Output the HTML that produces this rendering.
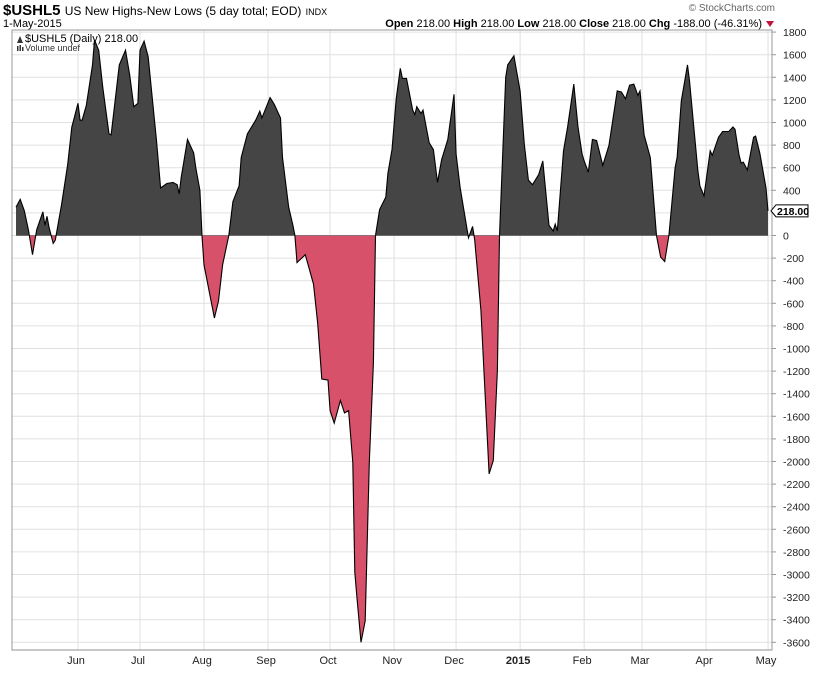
<!DOCTYPE html>
<html><head><meta charset="utf-8"><style>
body{margin:0;background:#fff;font-family:"Liberation Sans",sans-serif;}
svg text{font-family:"Liberation Sans",sans-serif;}
</style></head><body>
<svg id="chart" width="820" height="668" xmlns="http://www.w3.org/2000/svg">
<text x="3" y="15" font-size="15" font-weight="bold">$USHL5 <tspan font-weight="normal" font-size="12">US New Highs-New Lows (5 day total; EOD)</tspan> <tspan font-weight="normal" font-size="9">INDX</tspan></text>
<text x="3" y="27" font-size="11">1-May-2015</text>
<text x="775" y="11" font-size="10" fill="#666" text-anchor="end">© StockCharts.com</text>
<text x="762" y="27" font-size="11" text-anchor="end"><tspan font-weight="bold">Open</tspan> 218.00 <tspan font-weight="bold">High</tspan> 218.00 <tspan font-weight="bold">Low</tspan> 218.00 <tspan font-weight="bold">Close</tspan> 218.00 <tspan font-weight="bold">Chg</tspan> -188.00 (-46.31%)</text>
<polygon points="766,21 774,21 770,27" fill="#c0143c"/>
<g id="grid"></g>
<g id="marks"></g>
<rect x="12" y="30" width="760" height="620" fill="none" stroke="#999" stroke-width="1"/>
<line x1="12" y1="650" x2="772" y2="650" stroke="#888" stroke-dasharray="1,1"/>
<polygon points="17,43 20,36 23,43" fill="#333"/>
<text x="25" y="42" font-size="11">$USHL5 (Daily) 218.00</text>
<rect x="17" y="46" width="1.5" height="5" fill="#333"/><rect x="19.5" y="45" width="1.5" height="6" fill="#333"/><rect x="22" y="47" width="1.5" height="4" fill="#333"/>
<text x="25" y="51" font-size="9" fill="#333">Volume undef</text>
<g id="axis"></g>
</svg>
<script>
const days=[-30,-28,-26,-24,-22,-20,-17,-16,-15,-14,-12,-11,-8,-5,-3,-2,0,1,2,4,7,8,10,12,15,16,17,20,23,25,27,29,30,32,34,38,40,43,46,48,49,50,51,53,56,57,59,60,61,66,68,70,73,75,78,79,82,86,88,89,93,95,98,99,102,104,105,106,110,114,116,118,121,122,124,127,129,131,133,134,135,137,139,141,143,144,146,149,150,152,154,156,157,159,162,163,164,166,167,170,172,174,176,179,182,183,185,189,191,192,195,199,201,203,204,207,208,211,214,216,218,220,223,225,228,230,231,232,235,237,240,242,244,245,247,249,251,254,257,259,261,263,265,267,269,271,272,274,277,280,282,284,286,289,290,292,295,296,300,301,303,306,307,310,312,315,317,318,320,321,322,324,327,328,330,333,334];
const values=[250,320,220,50,-170,50,210,90,170,70,-70,-40,270,630,960,1030,1170,1020,1020,1150,1510,1730,1640,1310,900,890,1040,1510,1640,1420,1140,1170,1640,1720,1580,840,420,460,470,450,370,520,630,850,730,600,400,0,-260,-730,-580,-260,0,300,440,690,900,1020,1100,1040,1220,1160,1040,690,250,90,0,-240,-170,-430,-780,-1270,-1280,-1550,-1660,-1460,-1570,-1550,-2010,-2980,-3200,-3600,-3410,-2010,-1130,0,230,340,550,760,1210,1480,1390,1390,1110,1070,1140,1080,1110,820,760,470,670,850,1250,720,420,-20,80,-40,-660,-2110,-1990,-1190,0,1400,1510,1590,1280,810,490,450,540,660,90,40,100,40,750,960,1340,960,720,660,560,850,840,620,800,1040,1280,1270,1210,1330,1340,1240,1280,890,690,0,-190,-230,0,600,690,1190,1510,1370,580,440,350,750,710,870,920,920,960,940,710,640,650,580,870,880,730,420,218];
const yTicks=[1800,1600,1400,1200,1000,800,600,400,200,0,-200,-400,-600,-800,-1000,-1200,-1400,-1600,-1800,-2000,-2200,-2400,-2600,-2800,-3000,-3200,-3400,-3600];
const monthLabels=["Jun","Jul","Aug","Sep","Oct","Nov","Dec","2015","Feb","Mar","Apr","May"];
const monthDays=[0,30,61,92,122,153,183,214,245,273,304,334];
const lastValue="218.00";

const NS="http://www.w3.org/2000/svg";
const xS=d=>78+d*2.066;
const yS=v=>235.5-v*(22.6/200);
function mk(tag,attrs,parent){const e=document.createElementNS(NS,tag);for(const k in attrs)e.setAttribute(k,attrs[k]);parent.appendChild(e);return e;}
const grid=document.getElementById('grid'),marks=document.getElementById('marks'),axis=document.getElementById('axis');
yTicks.forEach(v=>{
  const l=mk('line',{x1:12,x2:772,y1:yS(v),y2:yS(v),stroke:'#e0e0e0'},grid);
  
  
  const t=mk('text',{x:783,y:yS(v)+4,'font-size':10.5,fill:'#222'},axis);
  t.textContent=v;
  
  
  mk('line',{x1:772,x2:776,y1:yS(v),y2:yS(v),stroke:'#999'},axis);
});
monthDays.forEach((d,i)=>{
  const l=mk('line',{x1:xS(d),x2:xS(d),y1:30,y2:650,stroke:'#e0e0e0'},grid);
  
  
  const t=mk('text',{x:xS(d)-2,y:664,'font-size':11,'text-anchor':'middle',fill:'#222','font-weight':monthLabels[i]==='2015'?'bold':'normal'},axis);
  t.textContent=monthLabels[i];
  
  
});
const pts=days.map((d,i)=>xS(d).toFixed(1)+','+yS(values[i]).toFixed(1));
const x0=xS(days[0]),x1=xS(days[days.length-1]),z=yS(0);
const areaD='M'+x0+','+z+' L'+pts.join(' L')+' L'+x1+','+z+' Z';
const defs=mk('defs',{},marks);
const c1=mk('clipPath',{id:'above'},defs);mk('rect',{x:0,y:0,width:820,height:z},c1);
const c2=mk('clipPath',{id:'below'},defs);mk('rect',{x:0,y:z,width:820,height:668},c2);
const pos=mk('path',{d:areaD,fill:'#454545','clip-path':'url(#above)'},marks);


const neg=mk('path',{d:areaD,fill:'#d8516a','clip-path':'url(#below)'},marks);


const zl=mk('line',{x1:x0,x2:x1,y1:z,y2:z,stroke:'#444','stroke-width':0.6},marks);


const ln=mk('path',{d:'M'+pts.join(' L'),fill:'none',stroke:'#000','stroke-width':1.1},marks);


const ly=yS(values[values.length-1]);
const tag=mk('path',{d:`M771,${ly} L776,${ly-6} L808,${ly-6} L808,${ly+6} L776,${ly+6} Z`,fill:'#fff',stroke:'#000'},axis);


const tt=mk('text',{x:777,y:ly+4,'font-size':10.5,'font-weight':'bold'},axis);
tt.textContent=lastValue;


</script>
</body></html>
